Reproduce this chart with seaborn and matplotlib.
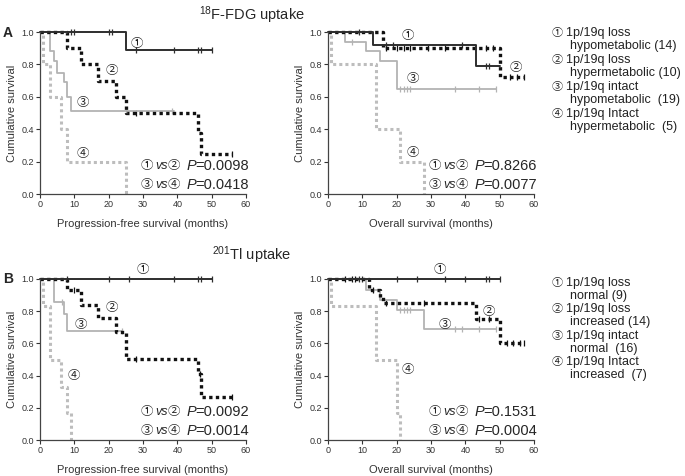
import numpy as np
import pandas as pd
import matplotlib
matplotlib.use('Agg')
import matplotlib.pyplot as plt
import seaborn as sns

# ---- data (time in months, cumulative survival) ----
# panel A, progression-free survival, 18F-FDG
fdg_pfs_t1 = [0, 25, 50]
fdg_pfs_s1 = [1.0, 0.89, 0.89]
fdg_pfs_c1 = [9, 10, 20, 21, 28, 39, 46, 47, 50]
fdg_pfs_t2 = [0, 8, 12, 17, 22, 25, 46, 47, 56]
fdg_pfs_s2 = [1.0, 0.9, 0.8, 0.7, 0.6, 0.5, 0.375, 0.25, 0.25]
fdg_pfs_c2 = [28, 56]
fdg_pfs_t3 = [0, 3, 4, 5, 7, 8, 9, 39]
fdg_pfs_s3 = [1.0, 0.88, 0.82, 0.75, 0.69, 0.6, 0.51, 0.51]
fdg_pfs_c3 = [25, 38.5]
fdg_pfs_t4 = [0, 1, 3, 6, 8, 25]
fdg_pfs_s4 = [1.0, 0.8, 0.6, 0.4, 0.2, 0.0]
fdg_pfs_c4 = []

# panel A, overall survival, 18F-FDG
fdg_os_t1 = [0, 13, 43, 50]
fdg_os_s1 = [1.0, 0.92, 0.79, 0.79]
fdg_os_c1 = [9, 17, 19, 39, 46, 47]
fdg_os_t2 = [0, 16, 50, 57]
fdg_os_s2 = [1.0, 0.9, 0.72, 0.72]
fdg_os_c2 = [17, 20, 22, 24, 29, 34, 46, 48, 53, 55, 57]
fdg_os_t3 = [0, 5, 11, 15, 20, 49]
fdg_os_s3 = [1.0, 0.94, 0.88, 0.82, 0.65, 0.65]
fdg_os_c3 = [7, 21, 22, 23, 24, 37, 44, 49]
fdg_os_t4 = [0, 1, 14, 21, 28]
fdg_os_s4 = [1.0, 0.8, 0.4, 0.2, 0.0]
fdg_os_c4 = []

# panel B, progression-free survival, 201Tl
tl_pfs_t1 = [0, 50]
tl_pfs_s1 = [1.0, 1.0]
tl_pfs_c1 = [8, 20, 26, 39, 46, 47, 50]
tl_pfs_t2 = [0, 8, 12, 17, 22, 25, 46, 47, 56]
tl_pfs_s2 = [1.0, 0.93, 0.84, 0.76, 0.67, 0.505, 0.41, 0.27, 0.27]
tl_pfs_c2 = [10, 28, 46.5, 56]
tl_pfs_t3 = [0, 4, 7, 8, 24]
tl_pfs_s3 = [1.0, 0.86, 0.78, 0.68, 0.68]
tl_pfs_c3 = [6.5, 24]
tl_pfs_t4 = [0, 1, 3, 6, 8, 9]
tl_pfs_s4 = [1.0, 0.83, 0.5, 0.33, 0.17, 0.0]
tl_pfs_c4 = []

# panel B, overall survival, 201Tl
tl_os_t1 = [0, 50]
tl_os_s1 = [1.0, 1.0]
tl_os_c1 = [9, 10, 20, 26, 34, 40, 46, 47, 50]
tl_os_t2 = [0, 12, 15, 16, 43, 50, 57]
tl_os_s2 = [1.0, 0.93, 0.89, 0.85, 0.75, 0.6, 0.6]
tl_os_c2 = [5, 7, 8, 13, 17, 28, 44, 47, 52, 54, 56, 57]
tl_os_t3 = [0, 11, 15, 20, 28, 49]
tl_os_s3 = [1.0, 0.93, 0.87, 0.81, 0.69, 0.69]
tl_os_c3 = [21, 22, 23, 24, 37, 39, 44, 49]
tl_os_t4 = [0, 1, 14, 20, 21]
tl_os_s4 = [1.0, 0.83, 0.5, 0.17, 0.0]
tl_os_c4 = []

p_fdg_pfs = ['0.0098', '0.0418']
p_fdg_os = ['0.8266', '0.0077']
p_tl_pfs = ['0.0092', '0.0014']
p_tl_os = ['0.1531', '0.0004']

fdg_groups = [('1p/19q loss', 'hypometabolic (14)'),
              ('1p/19q loss', 'hypermetabolic (10)'),
              ('1p/19q intact', 'hypometabolic  (19)'),
              ('1p/19q Intact', 'hypermetabolic  (5)')]
tl_groups = [('1p/19q loss', 'normal (9)'),
             ('1p/19q loss', 'increased (14)'),
             ('1p/19q intact', 'normal  (16)'),
             ('1p/19q Intact', 'increased  (7)')]

circ = ['\u2460', '\u2461', '\u2462', '\u2463']

# ---- styling ----
sns.set_style('ticks')
plt.rcParams['font.family'] = ['Liberation Sans', 'DejaVu Sans']
plt.rcParams['mathtext.default'] = 'regular'
CIRC_FONT = ['Noto Sans CJK JP', 'DejaVu Sans']

styles = [dict(color='#2e2e2e', lw=1.4, ls='-'),
          dict(color='#111111', lw=2.4, ls=(0, (1, 1))),
          dict(color='#b3b3b3', lw=1.3, ls='-'),
          dict(color='#bdbdbd', lw=2.2, ls=(0, (1, 1)))]


def surv_at(t, times, surv):
    idx = np.searchsorted(times, t, side='right') - 1
    return np.array(surv)[idx]


def draw_km(ax, curves, labels, pvals, xlabel):
    # curves drawn from group 4 up to group 1 so the dark ones sit on top
    for i in [3, 2, 1, 0]:
        t, s, c = curves[i]
        st = styles[i]
        df = pd.DataFrame({'t': t, 's': s})
        sns.lineplot(data=df, x='t', y='s', ax=ax, estimator=None, sort=False,
                     drawstyle='steps-post', color=st['color'], lw=st['lw'],
                     linestyle=st['ls'], clip_on=False)
        if len(c):
            cdf = pd.DataFrame({'t': c, 's': surv_at(c, t, s)})
            sns.scatterplot(data=cdf, x='t', y='s', ax=ax, marker='|', s=22,
                            color=st['color'], linewidth=0.9, clip_on=False)
    for k, (x, y) in enumerate(labels):
        ax.text(x, y, circ[k], ha='center', va='center', fontsize=9,
                family=CIRC_FONT, color='#222222')
    for row, (a, b, p) in enumerate([(0, 1, pvals[0]), (2, 3, pvals[1])]):
        y = 0.175 if row == 0 else 0.058
        ax.text(29.2, y, circ[a], va='center', fontsize=9, family=CIRC_FONT)
        ax.text(33.6, y, 'vs', va='center', fontsize=9, style='italic')
        ax.text(37.2, y, circ[b], va='center', fontsize=9, family=CIRC_FONT)
        ax.text(42.6, y, 'P', va='center', fontsize=10.5, style='italic')
        ax.text(45.1, y, '=' + p, va='center', fontsize=10.5)
    ax.set_xlim(0, 60)
    ax.set_ylim(0, 1.0)
    ax.set_xticks(range(0, 61, 10))
    ax.set_yticks(np.arange(0, 1.01, 0.2))
    ax.set_yticklabels(['%.1f' % v for v in np.arange(0, 1.01, 0.2)])
    ax.tick_params(labelsize=6.5, length=3, width=0.8, pad=1.5,
                   colors='#333333', labelcolor='#333333')
    ax.set_xlabel(xlabel, fontsize=8, labelpad=7, color='#333333')
    ax.set_ylabel('Cumulative survival', fontsize=8, labelpad=3, color='#333333')
    for sp in ['left', 'bottom']:
        ax.spines[sp].set_color('#444444')
        ax.spines[sp].set_linewidth(0.9)
    sns.despine(ax=ax)


W, H = 685, 476
fig = plt.figure(figsize=(W / 100, H / 100), dpi=100)


def px(x, y):
    return x / W, 1 - y / H


ax1 = fig.add_axes([40 / W, 1 - 194 / H, 206 / W, 162 / H])
ax2 = fig.add_axes([328 / W, 1 - 194 / H, 206 / W, 162 / H])
ax3 = fig.add_axes([40 / W, 1 - 440 / H, 206 / W, 161 / H])
ax4 = fig.add_axes([328 / W, 1 - 440 / H, 206 / W, 161 / H])

draw_km(ax1,
        [(fdg_pfs_t1, fdg_pfs_s1, fdg_pfs_c1), (fdg_pfs_t2, fdg_pfs_s2, fdg_pfs_c2),
         (fdg_pfs_t3, fdg_pfs_s3, fdg_pfs_c3), (fdg_pfs_t4, fdg_pfs_s4, fdg_pfs_c4)],
        [(28.2, 0.93), (20.9, 0.76), (12.6, 0.565), (12.6, 0.25)],
        p_fdg_pfs, 'Progression-free survival (months)')
draw_km(ax2,
        [(fdg_os_t1, fdg_os_s1, fdg_os_c1), (fdg_os_t2, fdg_os_s2, fdg_os_c2),
         (fdg_os_t3, fdg_os_s3, fdg_os_c3), (fdg_os_t4, fdg_os_s4, fdg_os_c4)],
        [(23.3, 0.98), (54.7, 0.78), (24.6, 0.71), (24.6, 0.255)],
        p_fdg_os, 'Overall survival (months)')
draw_km(ax3,
        [(tl_pfs_t1, tl_pfs_s1, tl_pfs_c1), (tl_pfs_t2, tl_pfs_s2, tl_pfs_c2),
         (tl_pfs_t3, tl_pfs_s3, tl_pfs_c3), (tl_pfs_t4, tl_pfs_s4, tl_pfs_c4)],
        [(30.1, 1.056), (20.9, 0.82), (11.8, 0.72), (9.9, 0.40)],
        p_tl_pfs, 'Progression-free survival (months)')
draw_km(ax4,
        [(tl_os_t1, tl_os_s1, tl_os_c1), (tl_os_t2, tl_os_s2, tl_os_c2),
         (tl_os_t3, tl_os_s3, tl_os_c3), (tl_os_t4, tl_os_s4, tl_os_c4)],
        [(32.5, 1.056), (46.9, 0.80), (34.0, 0.72), (23.3, 0.44)],
        p_tl_os, 'Overall survival (months)')

# titles and panel letters
fig.text(*px(252, 15), '$^{18}$F-FDG uptake', ha='center', va='center', fontsize=10.5)
fig.text(*px(252, 255), '$^{201}$Tl uptake', ha='center', va='center', fontsize=10.5)
fig.text(*px(3, 33), 'A', ha='left', va='center', fontsize=10, fontweight='bold')
fig.text(*px(3, 279), 'B', ha='left', va='center', fontsize=10, fontweight='bold')

# group descriptions on the right
for groups, ys in [(fdg_groups, [33, 60, 87, 114]), (tl_groups, [283, 309, 336, 362])]:
    for k, (l1, l2) in enumerate(groups):
        y = ys[k]
        fig.text(*px(552, y), circ[k], ha='left', va='center', fontsize=8,
                 family=CIRC_FONT, color='#222222')
        fig.text(*px(566, y), l1, ha='left', va='center', fontsize=9, color='#222222')
        fig.text(*px(570, y + 13), l2, ha='left', va='center', fontsize=9, color='#222222')

fig.savefig('out.png', dpi=100)
